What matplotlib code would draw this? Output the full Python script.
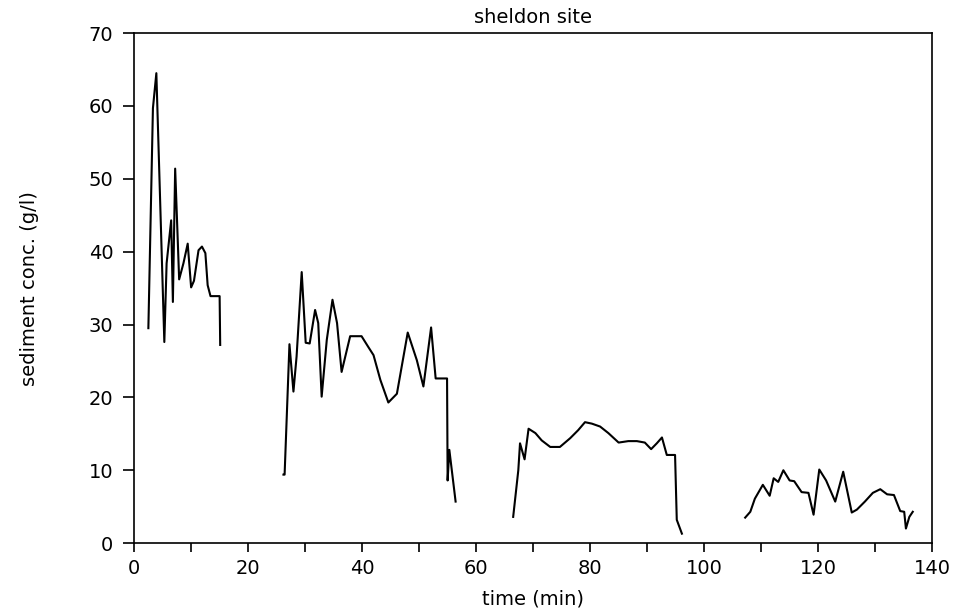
import numpy as np
import matplotlib.pyplot as plt
from matplotlib.ticker import MultipleLocator

# four sampling runs, time (min) and sediment concentration (g/l)
t1 = [2.5, 3.3, 3.9, 5.3, 5.7, 6.5, 6.8, 7.2, 7.9, 8.65, 9.4, 10.0, 10.5, 11.3, 11.9, 12.5, 12.9, 13.4, 15.0, 15.1]
c1 = [29.5, 59.7, 64.5, 27.6, 38.4, 44.3, 33.1, 51.4, 36.2, 38.4, 41.1, 35.1, 36.0, 40.2, 40.7, 39.8, 35.4, 33.9, 33.9, 27.2]

t2 = [26.2, 26.4, 27.25, 27.95, 28.5, 29.4, 30.1, 30.8, 31.75, 32.3, 32.9, 33.8, 34.8, 35.6, 36.4, 37.9,
      39.9, 41.1, 42.0, 43.2, 44.6, 46.1, 48.0, 49.6, 50.75, 52.1, 52.9, 54.9, 55.0, 55.3, 56.4]
c2 = [9.4, 9.4, 27.3, 20.8, 25.6, 37.2, 27.5, 27.4, 32.0, 30.2, 20.1, 27.9, 33.4, 30.2, 23.5, 28.4,
      28.4, 26.9, 25.8, 22.4, 19.3, 20.5, 28.9, 25.1, 21.5, 29.6, 22.6, 22.6, 8.6, 12.8, 5.7]

t3 = [66.5, 67.4, 67.7, 68.5, 69.2, 70.4, 71.5, 73.0, 74.7, 76.5, 77.9, 79.1, 80.3, 81.75, 83.2, 85.0,
      86.7, 88.2, 89.6, 90.7, 91.7, 92.6, 93.45, 94.9, 95.2, 96.1]
c3 = [3.6, 10.0, 13.7, 11.5, 15.7, 15.1, 14.1, 13.2, 13.2, 14.4, 15.5, 16.6, 16.4, 16.0, 15.1, 13.8,
      14.0, 14.0, 13.8, 12.9, 13.7, 14.5, 12.1, 12.1, 3.2, 1.3]

t4 = [107.2, 108.1, 108.9, 110.3, 111.5, 112.2, 113.0, 113.9, 115.0, 115.8, 117.1, 118.3, 119.2, 120.2,
      121.4, 123.0, 124.4, 125.9, 126.8, 128.2, 129.6, 130.9, 132.1, 133.3, 134.4, 135.1, 135.4, 136.0, 136.6]
c4 = [3.5, 4.3, 6.1, 8.0, 6.5, 8.9, 8.4, 10.0, 8.6, 8.5, 7.0, 6.9, 3.9, 10.1,
      8.6, 5.7, 9.8, 4.2, 4.6, 5.7, 6.9, 7.4, 6.7, 6.6, 4.4, 4.3, 2.0, 3.6, 4.3]

fig = plt.figure(figsize=(9.58, 6.13), dpi=100)
ax = fig.add_axes([0.14, 0.114, 0.833, 0.832])

for t, c in zip([t1, t2, t3, t4], [c1, c2, c3, c4]):
    ax.plot(t, c, 'k-', lw=1.5)

ax.set_xlim(0, 140)
ax.set_ylim(0, 70)
ax.xaxis.set_major_locator(MultipleLocator(20))
ax.xaxis.set_minor_locator(MultipleLocator(10))
ax.yaxis.set_major_locator(MultipleLocator(10))
ax.tick_params(axis='x', which='both', direction='out', length=6.5, width=1.2, labelsize=14, pad=5)
ax.tick_params(axis='y', which='both', direction='out', length=8, width=1.2, labelsize=14, pad=7)
ax.tick_params(top=False, right=False)
for s in ax.spines.values():
    s.set_linewidth(1.2)

ax.set_title("sheldon site", fontsize=14, pad=7)
ax.set_xlabel("time (min)", fontsize=14, labelpad=8)
ax.set_ylabel("sediment conc. (g/l)", fontsize=14, labelpad=36)

plt.savefig("out.png", dpi=100)
